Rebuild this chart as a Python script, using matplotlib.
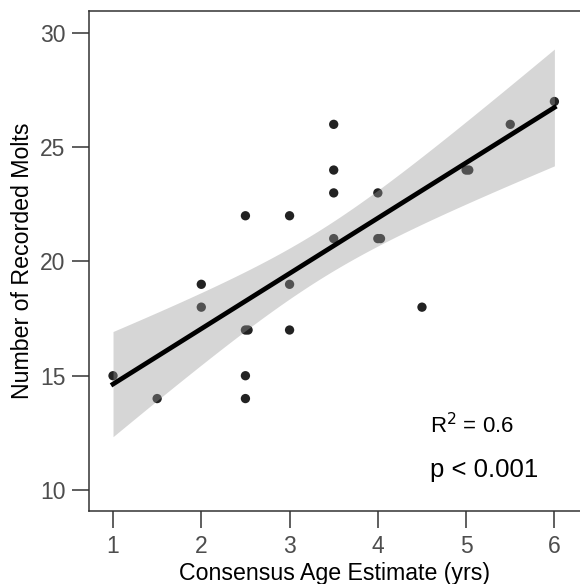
import numpy as np
from matplotlib import pyplot as plt

plt.rcParams['font.family'] = ['Liberation Sans', 'DejaVu Sans']

# age estimates (yrs) and recorded molts
age = [1, 1.5, 2, 2, 2.5, 2.5, 2.53, 2.5, 2.5, 3, 3, 3,
       3.5, 3.5, 3.5, 3.5, 4, 4, 4.03, 4.5, 5, 5.03, 5.5, 6]
molts = [15, 14, 19, 18, 22, 17, 17, 15, 14, 22, 19, 17,
         26, 24, 23, 21, 23, 21, 21, 18, 24, 24, 26, 27]

x_ticks = [1, 2, 3, 4, 5, 6]
y_ticks = [10, 15, 20, 25, 30]
r2_label = r'R$^2$ = 0.6'
p_label = 'p < 0.001'

x = np.array(age)
y = np.array(molts)
n = len(x)

# linear fit with 95% confidence band
slope, intercept = np.polyfit(x, y, 1)
resid = y - (slope * x + intercept)
s_err = np.sqrt(np.sum(resid ** 2) / (n - 2))
t_val = 2.0739  # t(0.975, df=22)
xs = np.linspace(x.min(), x.max(), 100)
ys = slope * xs + intercept
se = s_err * np.sqrt(1 / n + (xs - x.mean()) ** 2 / np.sum((x - x.mean()) ** 2))

fig = plt.figure(figsize=(5.8, 5.84), dpi=100)
ax = fig.add_axes([89 / 580, 73 / 584, 491 / 580, 500 / 584])

ax.scatter(x, y, s=45, color='#222222', edgecolors='none', zorder=1)
ax.fill_between(xs, ys - t_val * se, ys + t_val * se, color='#999999',
                alpha=0.4, linewidth=0, zorder=2)
ax.plot(xs, ys, color='black', linewidth=3.4, zorder=3)

ax.set_xlim(0.728, 6.29)
ax.set_ylim(9.08, 30.96)
ax.set_xticks(x_ticks)
ax.set_yticks(y_ticks)

for side in ['left', 'bottom', 'top']:
    ax.spines[side].set_color('#333333')
    ax.spines[side].set_linewidth(1.1)
ax.spines['right'].set_visible(False)

ax.tick_params(axis='both', length=12, width=1.1, color='#333333',
               labelsize=16.5, labelcolor='#4D4D4D', pad=5)

ax.set_xlabel('Consensus Age Estimate (yrs)', fontsize=16.7, color='black', labelpad=3)
ax.set_ylabel('Number of Recorded Molts', fontsize=16.7, color='black', labelpad=4)

ax.text(4.59, 12.5, r2_label, fontsize=16, color='black', va='baseline')
ax.text(4.59, 10.57, p_label, fontsize=18.5, color='black', va='baseline')

fig.savefig('out.png', dpi=100)
